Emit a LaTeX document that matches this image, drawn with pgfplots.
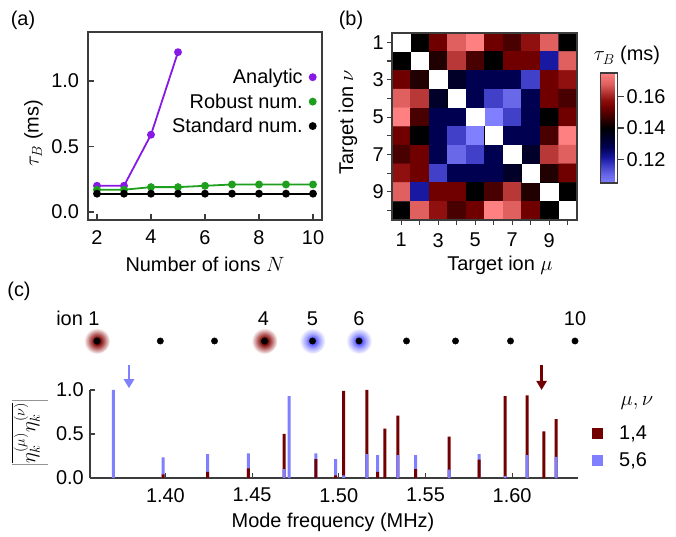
\documentclass[border=0pt]{standalone}
\usepackage{pgfplots}
\pgfplotsset{compat=1.18}
\usepackage{fontspec}
\setmainfont{Liberation Sans}
\usetikzlibrary{arrows.meta}
\definecolor{cpurple}{RGB}{135,25,230}
\definecolor{cgreen}{RGB}{30,160,30}
\definecolor{cred}{RGB}{115,0,0}
\definecolor{cblue}{RGB}{128,128,255}
\definecolor{cframe}{RGB}{60,60,60}
\definecolor{gr1}{RGB}{110,5,5}
\definecolor{gr2}{RGB}{185,100,100}
\definecolor{gb1}{RGB}{90,90,255}
\definecolor{gb2}{RGB}{170,170,255}
\pgfdeclareradialshading{glowred}{\pgfpointorigin}{color(0bp)=(gr1); color(6bp)=(gr1); color(14bp)=(gr2); color(25bp)=(white); color(50bp)=(white)}
\pgfdeclareradialshading{glowblue}{\pgfpointorigin}{color(0bp)=(gb1); color(6bp)=(gb1); color(14bp)=(gb2); color(25bp)=(white); color(50bp)=(white)}
\pgfdeclareplotmark{glowr}{\shade[shading=glowred, draw=none] (0,0) circle (13bp);}
\pgfdeclareplotmark{glowb}{\shade[shading=glowblue, draw=none] (0,0) circle (13bp);}
\newcommand\fs{\fontsize{20}{24}\selectfont}
\begin{document}
\begin{tikzpicture}[font=\fs]
\useasboundingbox (0,0) rectangle (676bp,537bp);
\pgfplotsset{every axis/.append style={font=\fs, axis line style={cframe, line width=1.1bp}, major tick style={cframe, line width=1.1bp}, /pgf/number format/assume math mode=true}}

% ---------------- panel (a)
\begin{axis}[at={(88bp,317bp)}, anchor=south west, scale only axis, width=234bp, height=188bp,
  xmin=1.667, xmax=10.333, ymin=-0.061, ymax=1.374,
  xtick={2,4,6,8,10}, ytick={0,0.5,1},
  tick align=inside, tick pos=left, major tick length=6bp,
  y tick label style={/pgf/number format/fixed, /pgf/number format/fixed zerofill, /pgf/number format/precision=1, inner sep=0pt, xshift=-8.8bp},
  x tick label style={inner sep=0pt, yshift=-10bp},
  legend style={at={(0.974,0.803)}, anchor=north east, draw=none, fill=none, inner sep=0pt, row sep=8.5bp, column sep=7bp, nodes={inner sep=0pt}},
  legend cell align=right, legend plot pos=right,
  legend image code/.code={\draw[#1] plot coordinates {(3bp,0bp)};}]
\addplot[cpurple, line width=1.8bp, mark=*, mark size=3bp] coordinates {(2,0.20) (3,0.20) (4,0.59) (5,1.22)};
\addlegendentry{Analytic}
\addplot[cgreen, line width=1.8bp, mark=*, mark size=3bp] coordinates {(2,0.17) (3,0.17) (4,0.19) (5,0.19) (6,0.20) (7,0.21) (8,0.21) (9,0.21) (10,0.21)};
\addlegendentry{Robust num.}
\addplot[black, line width=1.8bp, mark=*, mark size=3bp] coordinates {(2,0.14) (3,0.14) (4,0.14) (5,0.14) (6,0.14) (7,0.14) (8,0.14) (9,0.14) (10,0.14)};
\addlegendentry{Standard num.}
\end{axis}

% ---------------- panel (b)
\begin{axis}[at={(392bp,317bp)}, anchor=south west, scale only axis, width=185bp, height=187bp,
  xmin=0.5, xmax=10.5, ymin=0.5, ymax=10.5, y dir=reverse, axis on top,
  xtick={1,...,10}, ytick={1,...,10},
  xticklabels={1,,3,,5,,7,,9,}, yticklabels={1,,3,,5,,7,,9,},
  tick align=outside, tick pos=left, major tick length=5bp,
  y tick label style={inner sep=0pt, xshift=-3bp},
  x tick label style={inner sep=0pt, yshift=-8bp},
  colormap={heat}{rgb255(105pt)=(128,128,255) rgb255(110pt)=(104,104,232) rgb255(116pt)=(64,64,200) rgb255(121pt)=(24,24,160) rgb255(128pt)=(0,0,80) rgb255(134pt)=(0,0,40) rgb255(140pt)=(0,0,0) rgb255(144pt)=(32,0,0) rgb255(148pt)=(72,0,0) rgb255(153pt)=(112,0,0) rgb255(158pt)=(144,16,16) rgb255(163pt)=(184,56,56) rgb255(168pt)=(224,96,96) rgb255(175pt)=(255,128,128)},
  point meta min=0.105, point meta max=0.175,
  colorbar right,
  colorbar style={scale only axis, width=17bp, height=110bp, at={(parent axis.east)}, anchor=west, xshift=15bp, yshift=-1.5bp,
    y dir=normal, ytick={0.12,0.14,0.16}, ytick pos=right, yticklabel pos=right, tick align=outside, major tick length=6bp,
    y tick label style={/pgf/number format/fixed, /pgf/number format/fixed zerofill, /pgf/number format/precision=2, inner sep=0pt, xshift=3bp}}]
\addplot[matrix plot*, mesh/cols=10, point meta=explicit] table[meta=c] {
x y c
1 1 0.140
2 1 0.140
3 1 0.153
4 1 0.168
5 1 0.175
6 1 0.153
7 1 0.148
8 1 0.158
9 1 0.168
10 1 0.140
1 2 0.140
2 2 0.140
3 2 0.144
4 2 0.163
5 2 0.148
6 2 0.140
7 2 0.153
8 2 0.153
9 2 0.121
10 2 0.168
1 3 0.153
2 3 0.144
3 3 0.140
4 3 0.134
5 3 0.128
6 3 0.128
7 3 0.128
8 3 0.116
9 3 0.153
10 3 0.158
1 4 0.168
2 4 0.163
3 4 0.134
4 4 0.140
5 4 0.128
6 4 0.116
7 4 0.110
8 4 0.128
9 4 0.153
10 4 0.148
1 5 0.175
2 5 0.148
3 5 0.128
4 5 0.128
5 5 0.140
6 5 0.105
7 5 0.116
8 5 0.128
9 5 0.140
10 5 0.153
1 6 0.153
2 6 0.140
3 6 0.128
4 6 0.116
5 6 0.105
6 6 0.140
7 6 0.128
8 6 0.128
9 6 0.148
10 6 0.175
1 7 0.148
2 7 0.153
3 7 0.128
4 7 0.110
5 7 0.116
6 7 0.128
7 7 0.140
8 7 0.134
9 7 0.163
10 7 0.168
1 8 0.158
2 8 0.153
3 8 0.116
4 8 0.128
5 8 0.128
6 8 0.128
7 8 0.134
8 8 0.140
9 8 0.144
10 8 0.153
1 9 0.168
2 9 0.121
3 9 0.153
4 9 0.153
5 9 0.140
6 9 0.148
7 9 0.163
8 9 0.144
9 9 0.140
10 9 0.140
1 10 0.140
2 10 0.168
3 10 0.158
4 10 0.148
5 10 0.153
6 10 0.175
7 10 0.168
8 10 0.153
9 10 0.140
10 10 0.140
};
\addplot[fill=white, draw=none] coordinates {(0.5,0.5) (1.5,0.5) (1.5,1.5) (0.5,1.5)};
\addplot[fill=white, draw=none] coordinates {(1.5,1.5) (2.5,1.5) (2.5,2.5) (1.5,2.5)};
\addplot[fill=white, draw=none] coordinates {(2.5,2.5) (3.5,2.5) (3.5,3.5) (2.5,3.5)};
\addplot[fill=white, draw=none] coordinates {(3.5,3.5) (4.5,3.5) (4.5,4.5) (3.5,4.5)};
\addplot[fill=white, draw=none] coordinates {(4.5,4.5) (5.5,4.5) (5.5,5.5) (4.5,5.5)};
\addplot[fill=white, draw=none] coordinates {(5.5,5.5) (6.5,5.5) (6.5,6.5) (5.5,6.5)};
\addplot[fill=white, draw=none] coordinates {(6.5,6.5) (7.5,6.5) (7.5,7.5) (6.5,7.5)};
\addplot[fill=white, draw=none] coordinates {(7.5,7.5) (8.5,7.5) (8.5,8.5) (7.5,8.5)};
\addplot[fill=white, draw=none] coordinates {(8.5,8.5) (9.5,8.5) (9.5,9.5) (8.5,9.5)};
\addplot[fill=white, draw=none] coordinates {(9.5,9.5) (10.5,9.5) (10.5,10.5) (9.5,10.5)};
\end{axis}

% ---------------- ion chain
\begin{axis}[at={(0bp,0bp)}, anchor=south west, scale only axis, width=676bp, height=537bp,
  xmin=0, xmax=676, ymin=0, ymax=537, hide axis, clip=false]
\addplot[only marks, mark=glowr, draw=none] coordinates {(97,196) (264.5,196)};
\addplot[only marks, mark=glowb, draw=none] coordinates {(312.5,196) (359,196)};
\addplot[only marks, mark=*, mark size=3.2bp, black] coordinates {(97,196) (160.3,196) (214.5,196) (264.5,196) (312.5,196) (359,196) (406.5,196) (455.5,196) (510.5,196) (575,196)};
\end{axis}

% ---------------- panel (c)
\begin{axis}[at={(90bp,59bp)}, anchor=south west, scale only axis, width=488bp, height=88bp,
  xmin=1.3565, xmax=1.638, ymin=0, ymax=1, clip=false,
  axis x line*=bottom, axis y line*=left,
  xtick={1.40,1.45,1.50,1.55,1.60}, ytick={0,0.5,1},
  tick align=inside, major tick length=5bp,
  x tick label style={/pgf/number format/fixed, /pgf/number format/fixed zerofill, /pgf/number format/precision=2, inner sep=0pt, yshift=-10bp},
  y tick label style={/pgf/number format/fixed, /pgf/number format/fixed zerofill, /pgf/number format/precision=1, inner sep=0pt, xshift=-6bp},
  legend style={at={(1.0287,0.352)}, anchor=west, draw=none, fill=none, inner sep=0pt, row sep=12bp, column sep=16bp, nodes={inner sep=0pt}},
  legend cell align=left,
  legend image code/.code={\fill[#1] (0bp,-5.5bp) rectangle (11bp,5.5bp);}]
% taller bars first
\addplot[ybar, bar width=3bp, bar shift=0pt, fill=cred, draw=none] coordinates {(1.4685,0.50) (1.5028,0.99) (1.5162,1.00) (1.5266,0.56) (1.5341,0.71) (1.5637,0.47) (1.5960,0.93) (1.6087,0.94) (1.6183,0.53) (1.6254,0.67)};
\addlegendentry{1,4}
\addplot[ybar, bar width=3bp, bar shift=0pt, fill=cblue, draw=none] coordinates {(1.3700,1.00) (1.3987,0.235) (1.4243,0.27) (1.4478,0.28) (1.4714,0.93) (1.4868,0.28) (1.4982,0.215) (1.5224,0.26) (1.5443,0.26) (1.5810,0.27)};
\addlegendentry{5,6}
% shorter bars on top
\addplot[forget plot, ybar, bar width=3bp, bar shift=0pt, fill=cred, draw=none] coordinates {(1.3987,0.04) (1.4243,0.07) (1.4478,0.11) (1.4868,0.215) (1.4982,0.03) (1.5224,0.07) (1.5443,0.10) (1.5810,0.21)};
\addplot[forget plot, ybar, bar width=3bp, bar shift=0pt, fill=cblue, draw=none] coordinates {(1.4685,0.10) (1.5028,0.03) (1.5162,0.27) (1.5341,0.26) (1.5637,0.095) (1.5960,0.025) (1.6087,0.26) (1.6254,0.24)};
% arrows
\addplot[forget plot, cblue, line width=2.6bp, -{Triangle[width=10bp,length=9bp]}] coordinates {(1.379,1.284) (1.379,1.02)};
\addplot[forget plot, cred, line width=2.6bp, -{Triangle[width=10bp,length=9bp]}] coordinates {(1.617,1.284) (1.617,1.0)};
\end{axis}

% ---------------- texts
\node at (23bp,517bp) {(a)};
\node at (351bp,517bp) {(b)};
\node at (19bp,246bp) {(c)};
\node[rotate=90] at (33.5bp,404bp) {$\tau_B$ (ms)};
\node[anchor=base] at (205bp,265bp) {Number of ions $N$};
\node[rotate=90] at (348bp,415bp) {Target ion $\nu$};
\node[anchor=base] at (500bp,266.5bp) {Target ion $\mu$};
\node[anchor=base] at (627bp,476bp) {$\tau_B$ (ms)};
\node[anchor=base east] at (103bp,211bp) {ion 1};
\node[anchor=base] at (263.5bp,211bp) {4};
\node[anchor=base] at (312.5bp,211bp) {5};
\node[anchor=base] at (359bp,211bp) {6};
\node[anchor=base] at (575bp,211bp) {10};
\node[rotate=90, font=\fontsize{22}{26}\selectfont] at (30bp,104bp) {$\left|\overline{\eta_k^{(\mu)}\eta_k^{(\nu)}}\right|$};
\node[anchor=base] at (333bp,10bp) {Mode frequency (MHz)};
\node[anchor=base] at (637bp,131bp) {$\mu,\nu$};
\end{tikzpicture}
\end{document}
